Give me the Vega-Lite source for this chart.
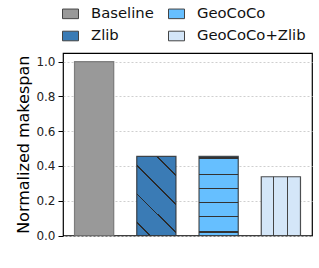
{
  "$schema": "https://vega.github.io/schema/vega-lite/v6.json",
  "width": 249,
  "height": 182.5,
  "autosize": {"type": "none"},
  "padding": {"left": 63, "top": 53, "right": 7, "bottom": 32.5},
  "config": {
    "font": "DejaVu Sans",
    "view": {"stroke": "#000", "strokeWidth": 1.2}
  },
  "data": {
    "values": [
      {"method": "Baseline", "value": 1.0},
      {"method": "Zlib", "value": 0.455},
      {"method": "GeoCoCo", "value": 0.455},
      {"method": "GeoCoCo+Zlib", "value": 0.338}
    ]
  },
  "encoding": {
    "x": {
      "field": "method",
      "type": "nominal",
      "sort": ["Baseline", "Zlib", "GeoCoCo", "GeoCoCo+Zlib"],
      "axis": null,
      "scale": {"paddingInner": 0.37, "paddingOuter": 0.185}
    },
    "y": {
      "field": "value",
      "type": "quantitative",
      "scale": {"domain": [0, 1.05], "nice": false},
      "axis": {
        "values": [0, 0.2, 0.4, 0.6, 0.8, 1.0],
        "format": ".1f",
        "labelFontSize": 12,
        "labelColor": "#222",
        "labelPadding": 3,
        "tickSize": 5,
        "tickColor": "#000",
        "domain": false,
        "grid": true,
        "gridDash": [2, 2],
        "gridColor": "#cfcfcf",
        "title": "Normalized makespan",
        "titleFontSize": 16,
        "titleFontWeight": "normal",
        "titleColor": "#000",
        "titlePadding": 4
      }
    }
  },
  "layer": [
    {
      "mark": {"type": "bar", "strokeWidth": 0},
      "encoding": {
        "color": {
          "field": "method",
          "type": "nominal",
          "scale": {
            "domain": ["Baseline", "Zlib", "GeoCoCo", "GeoCoCo+Zlib"],
            "range": ["#999999", "#3a7bb5", "#66bfff", "#d4e6f8"]
          },
          "legend": {
            "orient": "none",
            "legendX": -1,
            "legendY": -48,
            "title": null,
            "columns": 2,
            "symbolType": "M-1,-0.6H1V0.6H-1Z",
            "symbolSize": 256,
            "symbolStrokeColor": "#444",
            "symbolStrokeWidth": 1,
            "labelFontSize": 14.8,
            "labelColor": "#111",
            "labelOffset": 12,
            "columnPadding": 12,
            "rowPadding": 6.5
          }
        }
      }
    },
    {
      "mark": {"type": "bar", "strokeWidth": 1.2, "strokeOpacity": 0.85},
      "encoding": {
        "stroke": {
          "condition": {"test": "datum.method === 'Baseline'", "value": "#6e6e6e"},
          "value": "#333"
        },
        "fill": {
          "condition": [
            {
              "test": "datum.method === 'Zlib'",
              "value": {
                "gradient": "linear", "x1": 1, "y1": 0, "x2": 0.407, "y2": 1.201,
                "stops": [
                  {"offset": 0, "color": "#3a7bb5"},
                  {"offset": 0.153, "color": "#3a7bb5"},
                  {"offset": 0.153, "color": "#2a2a2a"},
                  {"offset": 0.169, "color": "#2a2a2a"},
                  {"offset": 0.169, "color": "#3a7bb5"},
                  {"offset": 0.397, "color": "#3a7bb5"},
                  {"offset": 0.397, "color": "#2a2a2a"},
                  {"offset": 0.413, "color": "#2a2a2a"},
                  {"offset": 0.413, "color": "#3a7bb5"},
                  {"offset": 0.639, "color": "#3a7bb5"},
                  {"offset": 0.639, "color": "#2a2a2a"},
                  {"offset": 0.655, "color": "#2a2a2a"},
                  {"offset": 0.655, "color": "#3a7bb5"},
                  {"offset": 0.882, "color": "#3a7bb5"},
                  {"offset": 0.882, "color": "#2a2a2a"},
                  {"offset": 0.898, "color": "#2a2a2a"},
                  {"offset": 0.898, "color": "#3a7bb5"},
                  {"offset": 1, "color": "#3a7bb5"}
                ]
              }
            },
            {
              "test": "datum.method === 'GeoCoCo'",
              "value": {
                "gradient": "linear", "x1": 0, "y1": 0, "x2": 0, "y2": 1,
                "stops": [
                  {"offset": 0, "color": "#66bfff"},
                  {"offset": 0.012, "color": "#66bfff"},
                  {"offset": 0.012, "color": "#333"},
                  {"offset": 0.03, "color": "#333"},
                  {"offset": 0.03, "color": "#66bfff"},
                  {"offset": 0.223, "color": "#66bfff"},
                  {"offset": 0.223, "color": "#333"},
                  {"offset": 0.241, "color": "#333"},
                  {"offset": 0.241, "color": "#66bfff"},
                  {"offset": 0.4, "color": "#66bfff"},
                  {"offset": 0.4, "color": "#333"},
                  {"offset": 0.418, "color": "#333"},
                  {"offset": 0.418, "color": "#66bfff"},
                  {"offset": 0.577, "color": "#66bfff"},
                  {"offset": 0.577, "color": "#333"},
                  {"offset": 0.595, "color": "#333"},
                  {"offset": 0.595, "color": "#66bfff"},
                  {"offset": 0.754, "color": "#66bfff"},
                  {"offset": 0.754, "color": "#333"},
                  {"offset": 0.772, "color": "#333"},
                  {"offset": 0.772, "color": "#66bfff"},
                  {"offset": 0.948, "color": "#66bfff"},
                  {"offset": 0.948, "color": "#333"},
                  {"offset": 0.966, "color": "#333"},
                  {"offset": 0.966, "color": "#66bfff"},
                  {"offset": 1, "color": "#66bfff"}
                ]
              }
            },
            {
              "test": "datum.method === 'GeoCoCo+Zlib'",
              "value": {
                "gradient": "linear", "x1": 0, "y1": 0, "x2": 1, "y2": 0,
                "stops": [
                  {"offset": 0, "color": "#d4e6f8"},
                  {"offset": 0.293, "color": "#d4e6f8"},
                  {"offset": 0.293, "color": "#444"},
                  {"offset": 0.331, "color": "#444"},
                  {"offset": 0.331, "color": "#d4e6f8"},
                  {"offset": 0.646, "color": "#d4e6f8"},
                  {"offset": 0.646, "color": "#444"},
                  {"offset": 0.684, "color": "#444"},
                  {"offset": 0.684, "color": "#d4e6f8"},
                  {"offset": 1, "color": "#d4e6f8"}
                ]
              }
            }
          ],
          "value": "rgba(0,0,0,0)"
        }
      }
    }
  ]
}
